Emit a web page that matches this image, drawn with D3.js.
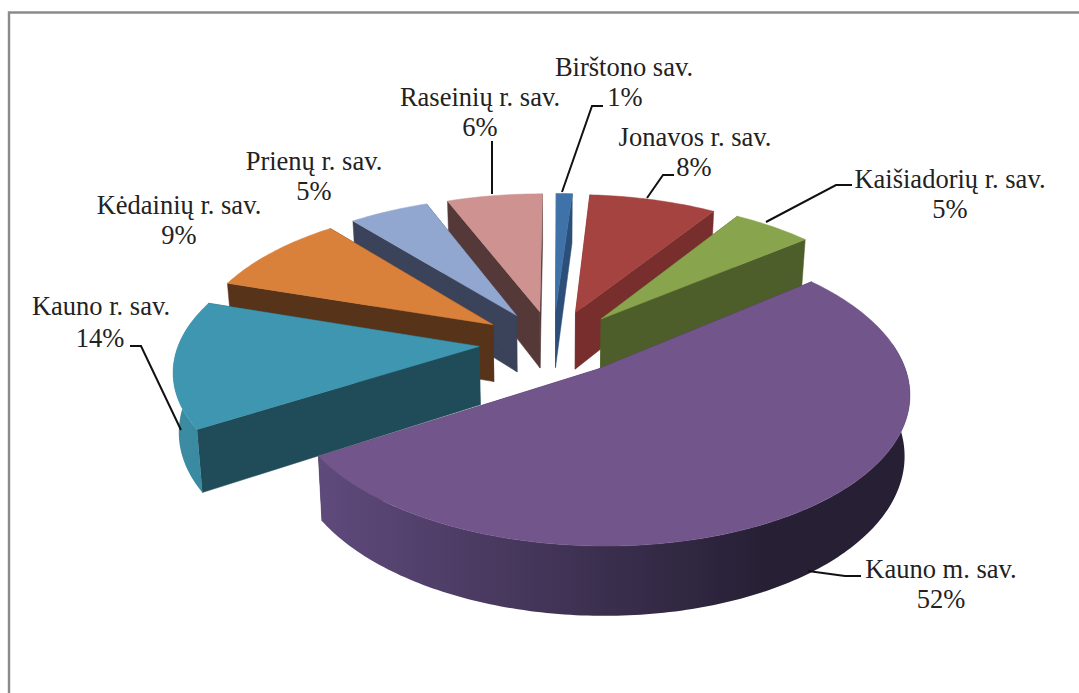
<!DOCTYPE html>
<html><head><meta charset="utf-8">
<script src="https://cdn.jsdelivr.net/npm/d3@7"></script>
<style>html,body{margin:0;padding:0;background:#fff;overflow:hidden}text{font-family:"Liberation Serif",serif;font-size:26.5px;fill:#222}</style>
</head><body><svg id="c" width="1079" height="693"></svg>
<script>
const categories=["Birštono sav.","Jonavos r. sav.","Kaišiadorių r. sav.","Kauno m. sav.","Kauno r. sav.","Kėdainių r. sav.","Prienų r. sav.","Raseinių r. sav."];
const shares=[1,8,5,52,14,9,5,6];
const topColors=["#3f72a8","#a54341","#88a44c","#72558b","#3f96b0","#d9803a","#92a7cf","#ce9391"];
const wallColors=["#2b4f78","#772e2d","#4e5e2b","#3d2f50","#204c5a","#57331a","#3a4359","#553838"];
const rimLight=["#3f72a8","#a54341","#88a44c","#5f4a7c","#3d8ca4","#d9803a","#92a7cf","#ce9391"];
const rimDark=["#2b4f78","#772e2d","#4e5e2b","#272035","#3a8aa2","#57331a","#3a4359","#553838"];
const labelPos=[[624,75.5,625,105.5],[695,145.5,694,175.5],[950,187.5,950,217.5],[941,577.5,941,607.5],[101,314.5,100,346.5],[179,213.5,179,243.5],[314,169.5,314,199.5],[480,105.5,480,135.5]];
const leaders=[[[603,106],[592,106],[562,192]],[[674,175],[663,175],[647,198]],[[852,185],[836,185],[766,222]],[[861,576],[845,576],[808,571]],[[130,346],[141,346],[181,430]],[],[],[[492,141],[492,194]]];

const svg=d3.select("#c");
const defs=svg.append("defs");
const W=1079,H=693;
svg.append("path").attr("d",`M9,${H}V12.5H${W}`).attr("fill","none").attr("stroke","#8a8a8a").attr("stroke-width",2.4);

const sx=d3.scaleLinear().domain([-1,1]).range([553-300,553+300]);
const sy=d3.scaleLinear().domain([-1,1]).range([342.5-143,342.5+143]);
const persp=0.143,explodeX=0.247,explodeY=0.225,depth=58;
function project(X,Y,z){
  const w=1/(1-persp*Y), k=z?0.985:1;
  return [sx(0)+(sx(X)-sx(0))*w*k, sy(0)+(sy(Y)-sy(0))*w+z*w];
}
const pie=d3.pie().sort(null).startAngle(0.004).endAngle(2*Math.PI+0.004);
const arcs=pie(shares).map((a,i)=>{
  const mid=(a.startAngle+a.endAngle)/2;
  return {i,a0:a.startAngle,a1:a.endAngle,mid,ox:explodeX*Math.sin(mid),oy:-explodeY*Math.cos(mid)};
});
const line=d3.line();
const rimPts=(s,z,a0,a1)=>{
  const n=Math.max(4,Math.ceil((a1-a0)*60));
  return d3.range(n+1).map(j=>{
    const t=a0+(a1-a0)*j/n;
    return project(s.ox+Math.sin(t),s.oy-Math.cos(t),z);
  });
};
const order=arcs.slice().sort((p,q)=>p.oy-q.oy);
const rimFrom=80*Math.PI/180,rimTo=280*Math.PI/180;
order.forEach(s=>{
  const g=svg.append("g");
  const apexT=project(s.ox,s.oy,0),apexB=project(s.ox,s.oy,depth);
  const top=rimPts(s,0,s.a0,s.a1),bot=rimPts(s,depth,s.a0,s.a1);
  const wall=(p,q)=>g.append("path").attr("d",line([apexT,p,q,apexB])+"Z").attr("fill",wallColors[s.i]).attr("stroke",wallColors[s.i]).attr("stroke-width",.5);
  wall(top[0],bot[0]);
  wall(top[top.length-1],bot[bot.length-1]);
  const r0=Math.max(s.a0,rimFrom),r1=Math.min(s.a1,rimTo);
  if(r1>r0){
    const rt=rimPts(s,0,r0,r1),rb=rimPts(s,depth,r0,r1);
    const xs=rt.map(d=>d[0]);
    const gid="rim"+s.i;
    const gr=defs.append("linearGradient").attr("id",gid).attr("gradientUnits","userSpaceOnUse")
      .attr("x1",d3.min(xs)).attr("x2",d3.max(xs)).attr("y1",0).attr("y2",0);
    gr.append("stop").attr("offset",0).attr("stop-color",rimLight[s.i]);
    gr.append("stop").attr("offset",.75).attr("stop-color",rimDark[s.i]);
    g.append("path").attr("d",line(rt.concat(rb.slice().reverse()))+"Z").attr("fill",`url(#${gid})`);
  }
  g.append("path").attr("d",line([apexT,...top])+"Z").attr("fill",topColors[s.i]).attr("stroke",topColors[s.i]).attr("stroke-width",.5);
});
leaders.forEach(l=>{ if(l.length) svg.append("path").attr("d",line(l)).attr("fill","none").attr("stroke","#111").attr("stroke-width",2); });
categories.forEach((c,i)=>{
  const p=labelPos[i];
  svg.append("text").attr("x",p[0]).attr("y",p[1]).attr("text-anchor","middle").text(c);
  svg.append("text").attr("x",p[2]).attr("y",p[3]).attr("text-anchor","middle").text(shares[i]+"%");
});
</script></body></html>
